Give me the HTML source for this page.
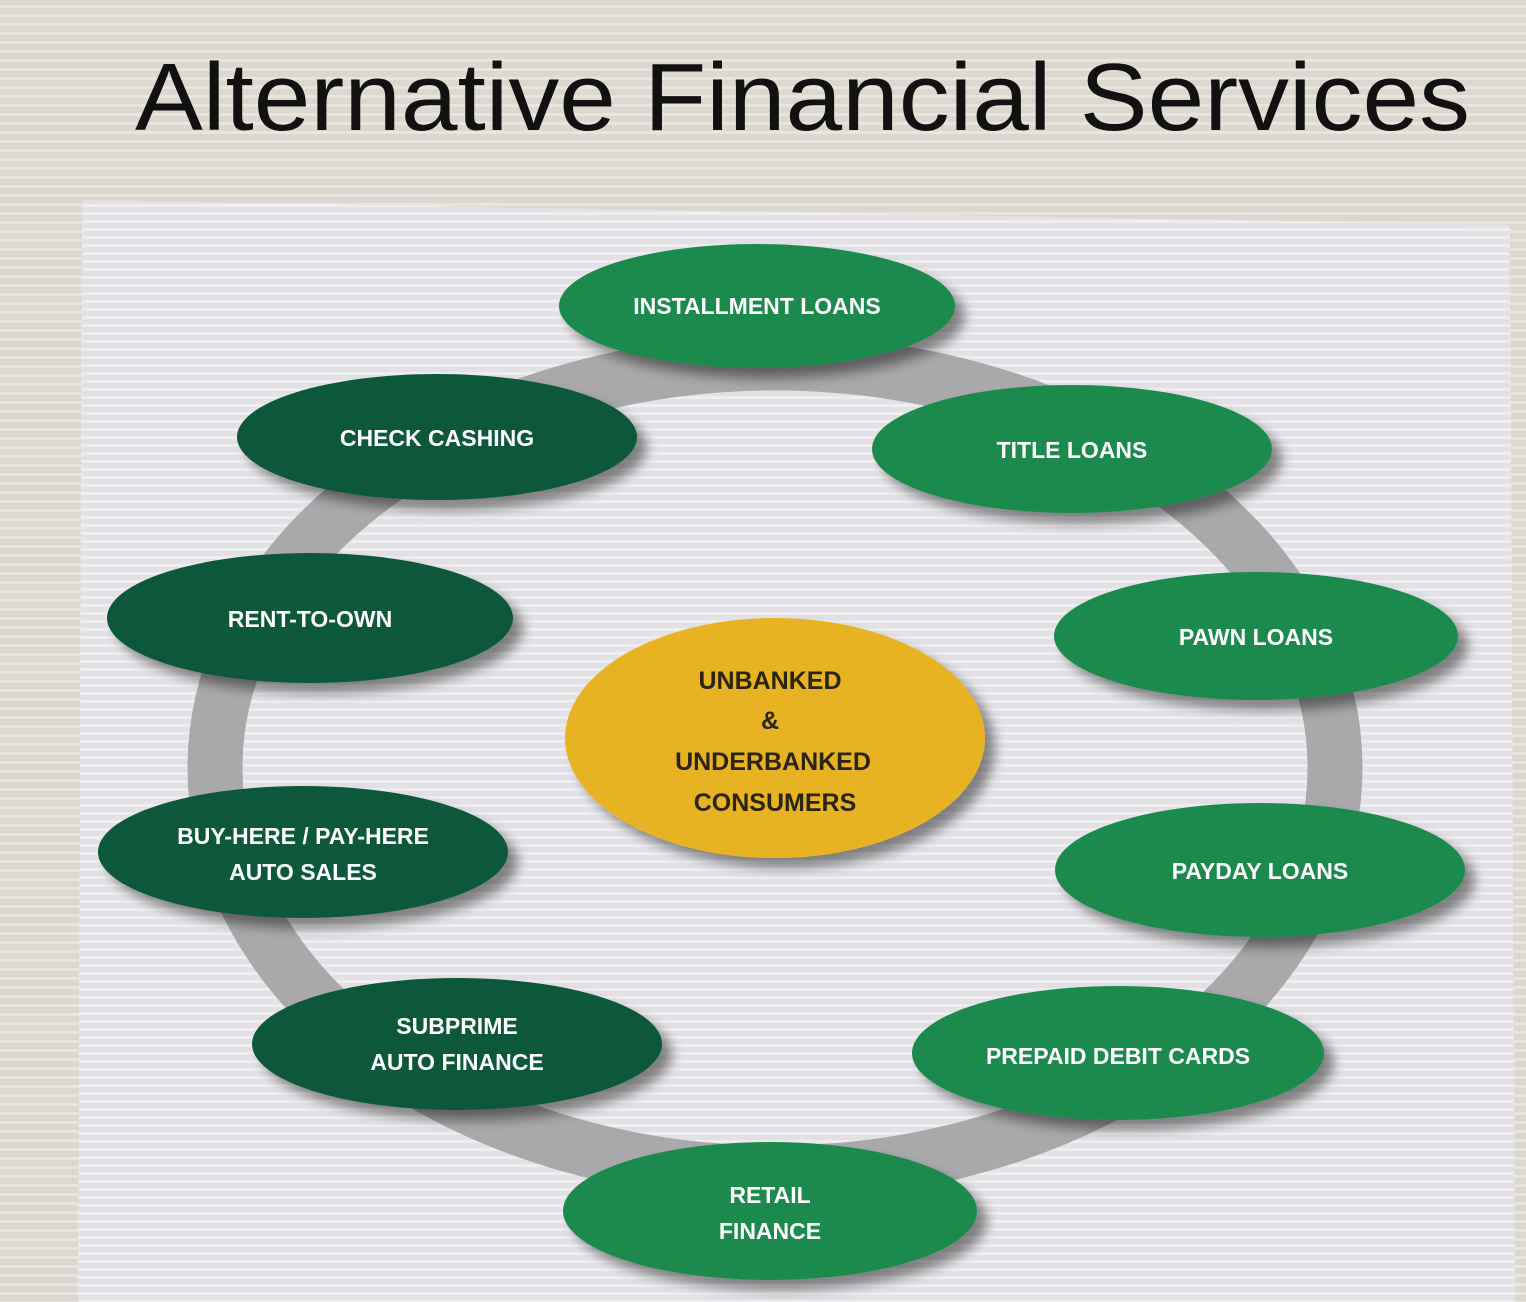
<!DOCTYPE html>
<html><head><meta charset="utf-8"><style>
html,body{margin:0;padding:0;width:1526px;height:1302px;overflow:hidden;background:#d9d4cc;}
svg{display:block}
</style></head><body>
<svg width="1526" height="1302" viewBox="0 0 1526 1302" xmlns="http://www.w3.org/2000/svg">
<defs>
<pattern id="st" width="10" height="9" patternUnits="userSpaceOnUse">
<rect width="10" height="9" fill="#ddd8cf"/><rect y="5" width="10" height="3" fill="#e9e5de"/>
</pattern>
<pattern id="st2" width="10" height="8" patternUnits="userSpaceOnUse">
<rect width="10" height="8" fill="#e3e1e6"/><rect y="4" width="10" height="3" fill="#eeedf0"/>
</pattern>
<filter id="sh" x="-20%" y="-20%" width="150%" height="150%">
<feGaussianBlur in="SourceAlpha" stdDeviation="6"/><feOffset dx="10" dy="10"/>
<feComponentTransfer><feFuncA type="linear" slope="0.45"/></feComponentTransfer>
<feMerge><feMergeNode/><feMergeNode in="SourceGraphic"/></feMerge>
</filter>
</defs>
<rect width="1526" height="1302" fill="url(#st)"/>
<polygon points="82,200 1510,225 1515,1302 78,1302" fill="url(#st2)"/>
<text x="135" y="130" font-family="Liberation Sans, sans-serif" font-size="96" fill="#111" textLength="1335" lengthAdjust="spacingAndGlyphs">Alternative Financial Services</text>
<ellipse cx="775" cy="768" rx="560" ry="405" fill="none" stroke="#a9a9ab" stroke-width="55"/>
<g font-family="Liberation Sans, sans-serif" font-weight="bold" font-size="23" fill="#fff" text-anchor="middle">
<g filter="url(#sh)">
<ellipse cx="757" cy="306" rx="198" ry="62" fill="#1a8a4e"/>
<ellipse cx="437" cy="437" rx="200" ry="63" fill="#10583b"/>
<ellipse cx="1072" cy="449" rx="200" ry="64" fill="#1a8a4e"/>
<ellipse cx="310" cy="618" rx="203" ry="65" fill="#10583b"/>
<ellipse cx="1256" cy="636" rx="202" ry="64" fill="#1a8a4e"/>
<ellipse cx="775" cy="738" rx="210" ry="120" fill="#e8b323"/>
<ellipse cx="303" cy="852" rx="205" ry="66" fill="#10583b"/>
<ellipse cx="1260" cy="870" rx="205" ry="67" fill="#1a8a4e"/>
<ellipse cx="457" cy="1044" rx="205" ry="66" fill="#10583b"/>
<ellipse cx="1118" cy="1053" rx="206" ry="67" fill="#1a8a4e"/>
<ellipse cx="770" cy="1211" rx="207" ry="69" fill="#1a8a4e"/>
</g>
<text x="757" y="314">INSTALLMENT LOANS</text>
<text x="437" y="446">CHECK CASHING</text>
<text x="1072" y="458">TITLE LOANS</text>
<text x="310" y="627">RENT-TO-OWN</text>
<text x="1256" y="645">PAWN LOANS</text>
<text x="303" y="844">BUY-HERE / PAY-HERE</text>
<text x="303" y="880">AUTO SALES</text>
<text x="1260" y="879">PAYDAY LOANS</text>
<text x="457" y="1034">SUBPRIME</text>
<text x="457" y="1070">AUTO FINANCE</text>
<text x="1118" y="1064">PREPAID DEBIT CARDS</text>
<text x="770" y="1203">RETAIL</text>
<text x="770" y="1239">FINANCE</text>
<g fill="#2a2410" font-size="25">
<text x="770" y="689">UNBANKED</text>
<text x="770" y="729">&amp;</text>
<text x="773" y="770">UNDERBANKED</text>
<text x="775" y="811">CONSUMERS</text>
</g>
</g>
</svg>
</body></html>
